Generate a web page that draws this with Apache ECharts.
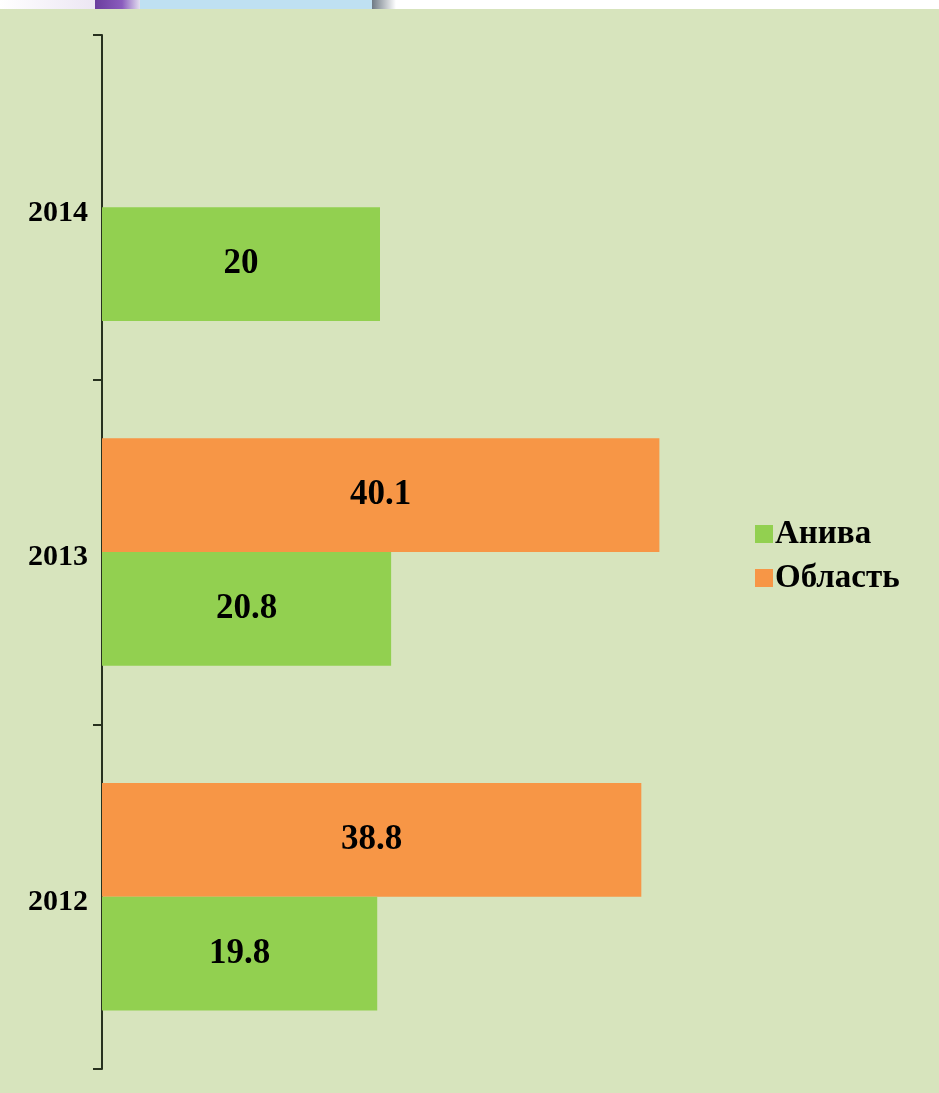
<!DOCTYPE html>
<html>
<head>
<meta charset="utf-8">
<script src="https://cdn.jsdelivr.net/npm/echarts@6/dist/echarts.min.js"></script>
<style>
  html, body { margin: 0; padding: 0; background: #d7e4bd; }
  #chart { width: 939px; height: 1093px; }
</style>
</head>
<body>
<div id="chart"></div>
<script>
// Years on the category axis (bottom to top)
const years = ['2012', '2013', '2014'];
// Values per series
const anivaValues = [19.8, 20.8, 20];
const oblastValues = [38.8, 40.1, null];
const seriesNames = ['Анива', 'Область'];

const serif = '"Liberation Serif", "Times New Roman", serif';
const chart = echarts.init(document.getElementById('chart'));

const barLabel = { show: true, position: 'inside', fontFamily: serif, fontWeight: 'bold', fontSize: 35, color: '#000' };

chart.setOption({
  backgroundColor: '#d7e4bd',
  animation: false,
  grid: { left: 102, top: 35, bottom: 24, width: 695, containLabel: false },
  legend: {
    data: seriesNames,
    orient: 'vertical',
    left: 750,
    top: 511,
    icon: 'rect',
    itemWidth: 18,
    itemHeight: 18,
    itemGap: 8,
    textStyle: { fontFamily: serif, fontWeight: 'bold', fontSize: 33, color: '#000', lineHeight: 36, padding: [0, 0, 0, -3] }
  },
  xAxis: {
    type: 'value',
    min: 0,
    max: 50,
    show: false
  },
  yAxis: {
    type: 'category',
    data: years,
    axisLine: { show: true, lineStyle: { color: '#27311f', width: 2 } },
    axisTick: { show: true, length: 9, lineStyle: { color: '#27311f', width: 2 } },
    // year labels sit a little below the middle of each band
    axisLabel: { fontFamily: serif, fontWeight: 'bold', fontSize: 30, color: '#000', margin: 14, verticalAlign: 'top', lineHeight: 11 },
    splitLine: { show: false }
  },
  // Область is listed first so its bar sits above Анива within each year
  series: [
    {
      name: seriesNames[1],
      type: 'bar',
      data: oblastValues,
      barGap: '0%',
      barCategoryGap: '34%',
      itemStyle: { color: '#f79646' },
      label: barLabel
    },
    {
      name: seriesNames[0],
      type: 'bar',
      data: anivaValues,
      barGap: '0%',
      barCategoryGap: '34%',
      itemStyle: { color: '#92d050' },
      label: barLabel
    }
  ],
  graphic: [
    // Strip of the slide header along the top edge
    { type: 'rect', left: 0, top: 0, shape: { width: 939, height: 9 }, style: { fill: '#ffffff' }, silent: true },
    { type: 'rect', left: 0, top: 0, shape: { width: 95, height: 9 },
      style: { fill: new echarts.graphic.LinearGradient(0, 0, 1, 0, [{ offset: 0, color: '#ffffff' }, { offset: 1, color: '#ece6f3' }]) }, silent: true },
    { type: 'rect', left: 95, top: 0, shape: { width: 45, height: 9 },
      style: { fill: new echarts.graphic.LinearGradient(0, 0, 1, 0, [{ offset: 0, color: '#6a3e9e' }, { offset: 0.6, color: '#8a5cbd' }, { offset: 1, color: '#e3dff0' }]) }, silent: true },
    { type: 'rect', left: 140, top: 0, shape: { width: 232, height: 9 }, style: { fill: '#bfe0f2' }, silent: true },
    { type: 'rect', left: 372, top: 0, shape: { width: 24, height: 9 },
      style: { fill: new echarts.graphic.LinearGradient(0, 0, 1, 0, [{ offset: 0, color: '#6f7a85' }, { offset: 1, color: '#ffffff' }]) }, silent: true }
  ]
});
</script>
</body>
</html>
